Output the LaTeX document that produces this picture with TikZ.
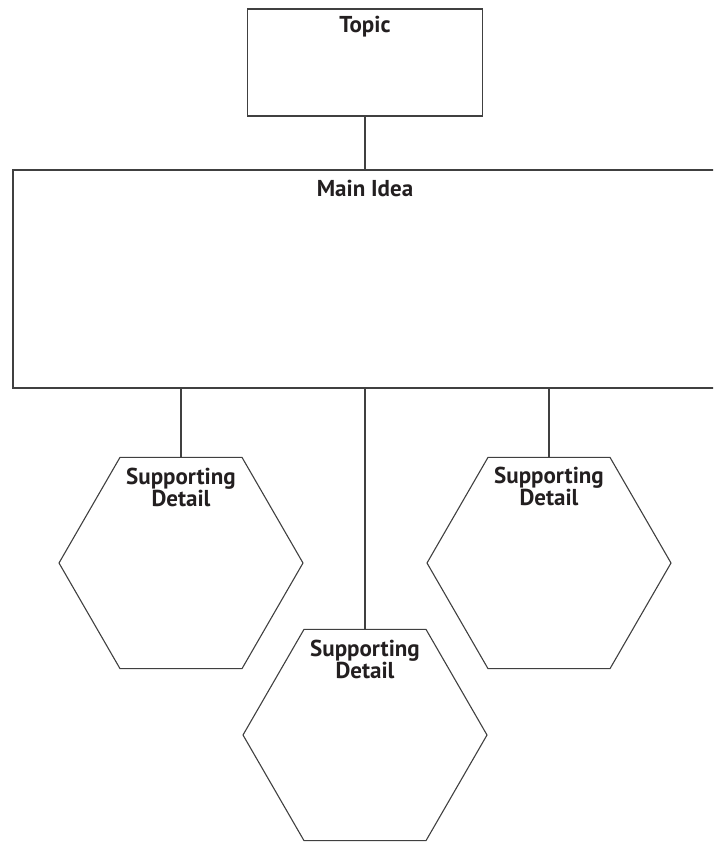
\documentclass[tikz,border=0pt]{standalone}
\usepackage{fontspec}
\setmainfont{PT Sans}
\usetikzlibrary{shapes.geometric}
\definecolor{linegray}{HTML}{404040}
\definecolor{textc}{HTML}{231F20}
\begin{document}
\begin{tikzpicture}[x=1pt,y=-1pt,
  box/.style={draw=linegray, line width=1.4pt, rectangle, inner sep=0pt},
  hexa/.style={draw=linegray, line width=1.1pt, regular polygon, regular polygon sides=6, minimum size=244pt, inner sep=0pt},
  lbl/.style={font=\bfseries\fontsize{23}{22}\selectfont, align=center, inner sep=0pt, anchor=north, text=textc},
  conn/.style={draw=linegray, line width=1.3pt}]
\clip (0,0) rectangle (713,843);
\node[box, minimum width=235pt, minimum height=107pt] (topic) at (365,62.5) {};
\node[box, minimum width=704pt, minimum height=218pt] (main) at (365,279) {};
\node[hexa] (hexL) at (181,563) {};
\node[hexa] (hexC) at (365,735) {};
\node[hexa] (hexR) at (549,563) {};
\node[lbl] (tTopic) at (365,16) {Topic};
\node[lbl] (tMain) at (365,180) {Main Idea};
\node[lbl] (tL) at (181,468) {Supporting\\Detail};
\node[lbl] (tC) at (365,640) {Supporting\\Detail};
\node[lbl] (tR) at (549,467) {Supporting\\Detail};
\draw[conn] (topic.south) -- (main.north);
\draw[conn] (main.south -| hexL.north) -- (hexL.north);
\draw[conn] (main.south) -- (hexC.north);
\draw[conn] (main.south -| hexR.north) -- (hexR.north);
\end{tikzpicture}
\end{document}
